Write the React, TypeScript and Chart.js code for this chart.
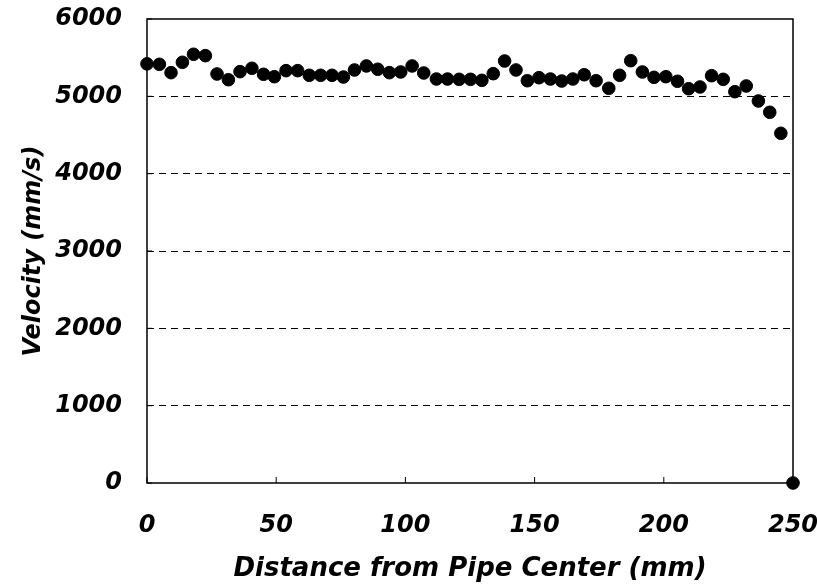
import React, { useEffect, useRef } from "react";
import { Chart, registerables } from "chart.js";

Chart.register(...registerables);

// Distance from pipe center (mm)
const distanceMm = [
  0, 4.8, 9.3, 13.7, 18.0, 22.6, 27.1, 31.5, 36.0, 40.6, 45.1, 49.3, 53.8, 58.3,
  62.8, 67.2, 71.6, 76.0, 80.3, 84.9, 89.3, 93.8, 98.2, 102.6, 107.1, 112.0,
  116.3, 120.8, 125.2, 129.6, 134.0, 138.4, 142.8, 147.2, 151.7, 156.1, 160.5,
  164.8, 169.2, 173.8, 178.7, 182.9, 187.2, 191.7, 196.2, 200.8, 205.3, 209.6,
  214.0, 218.5, 223.0, 227.5, 231.9, 236.6, 241.0, 245.3, 250,
];

// Velocity (mm/s)
const velocityMmS = [
  5420, 5414, 5306, 5440, 5544, 5526, 5289, 5215, 5319, 5363, 5285, 5254, 5332,
  5332, 5272, 5272, 5272, 5250, 5341, 5393, 5350, 5306, 5315, 5393, 5302, 5224,
  5224, 5220, 5220, 5207, 5293, 5457, 5341, 5202, 5241, 5224, 5198, 5224, 5279,
  5202, 5104, 5272, 5461, 5315, 5246, 5254, 5195, 5099, 5121, 5267, 5220, 5060,
  5134, 4940, 4794, 4522, 0,
];

const xAxisTitle = "Distance from Pipe Center (mm)";
const yAxisTitle = "Velocity (mm/s)";
const xRange = [0, 250];
const xStep = 50;
const yRange = [0, 6000];
const yStep = 1000;

const FONT_FAMILY = "'DejaVu Sans', sans-serif";

const framePlugin = {
  id: "frame",
  beforeDatasetsDraw(chart: any) {
    const { ctx, chartArea, scales } = chart;
    const { left, top, right, bottom } = chartArea;
    ctx.save();
    ctx.strokeStyle = "#000";
    ctx.lineWidth = 1.5;
    ctx.strokeRect(left, top, right - left, bottom - top);
    ctx.lineWidth = 1;
    scales.y.ticks.forEach((t: any) => {
      const y = scales.y.getPixelForValue(t.value);
      ctx.beginPath();
      ctx.moveTo(left, y);
      ctx.lineTo(left + 5, y);
      ctx.stroke();
    });
    scales.x.ticks.forEach((t: any) => {
      const x = scales.x.getPixelForValue(t.value);
      ctx.beginPath();
      ctx.moveTo(x, bottom);
      ctx.lineTo(x, bottom - 6);
      ctx.stroke();
    });
    ctx.restore();
  },
};

export default function App() {
  const canvasRef = useRef<HTMLCanvasElement | null>(null);

  useEffect(() => {
    if (!canvasRef.current) return;
    const points = distanceMm.map((d, i) => ({ x: d, y: velocityMmS[i] }));
    const chart = new Chart(canvasRef.current, {
      type: "scatter",
      data: {
        datasets: [
          {
            data: points,
            backgroundColor: "#000",
            borderColor: "#000",
            pointRadius: 6.3,
            pointHoverRadius: 6.3,
            clip: false as any,
          },
        ],
      },
      plugins: [framePlugin],
      options: {
        animation: false,
        responsive: true,
        maintainAspectRatio: false,
        layout: { padding: { left: 0, top: 19, right: 24, bottom: 0 } },
        plugins: {
          legend: { display: false },
          tooltip: { enabled: false },
        },
        scales: {
          x: {
            type: "linear",
            min: xRange[0],
            max: xRange[1],
            afterFit: (scale: any) => {
              scale.height = 104;
              scale.paddingLeft = 0;
              scale.paddingRight = 0;
            },
            ticks: {
              stepSize: xStep,
              color: "#000",
              padding: 28,
              maxRotation: 0,
              callback: (v: any) => String(v),
              font: { family: FONT_FAMILY, size: 24, weight: "bold", style: "italic" },
            },
            grid: { display: false, drawTicks: false },
            border: { display: false },
            title: {
              display: true,
              text: xAxisTitle,
              color: "#000",
              padding: { top: 0, bottom: 2 },
              font: { family: FONT_FAMILY, size: 26, weight: "bold", style: "italic" },
            },
          },
          y: {
            type: "linear",
            min: yRange[0],
            max: yRange[1],
            afterFit: (scale: any) => {
              scale.width = 147;
              scale.paddingTop = 0;
              scale.paddingBottom = 0;
            },
            ticks: {
              stepSize: yStep,
              color: "#000",
              padding: 25,
              callback: (v: any) => String(v),
              font: { family: FONT_FAMILY, size: 24, weight: "bold", style: "italic" },
            },
            grid: {
              display: true,
              drawTicks: false,
              lineWidth: 1,
              color: (c: any) =>
                c.tick && (c.tick.value === yRange[0] || c.tick.value === yRange[1])
                  ? "rgba(0,0,0,0)"
                  : "#000",
            },
            border: { display: false, dash: [7, 5] },
            title: {
              display: true,
              text: yAxisTitle,
              color: "#000",
              padding: { top: 19, bottom: 0 },
              font: { family: FONT_FAMILY, size: 24, weight: "bold", style: "italic" },
            },
          },
        },
      },
    });
    return () => chart.destroy();
  }, []);

  return (
    <div style={{ position: "fixed", left: 0, top: 0, width: 817, height: 587, background: "#fff" }}>
      <canvas ref={canvasRef} />
    </div>
  );
}
